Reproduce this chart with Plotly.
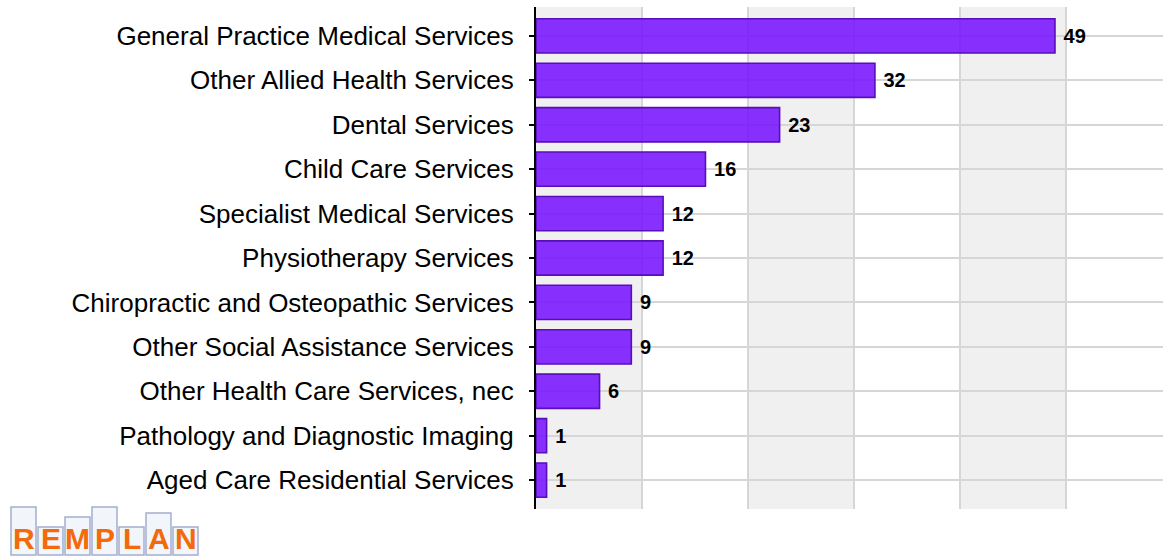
import plotly.graph_objects as go

categories = [
    "General Practice Medical Services",
    "Other Allied Health Services",
    "Dental Services",
    "Child Care Services",
    "Specialist Medical Services",
    "Physiotherapy Services",
    "Chiropractic and Osteopathic Services",
    "Other Social Assistance Services",
    "Other Health Care Services, nec",
    "Pathology and Diagnostic Imaging",
    "Aged Care Residential Services",
]
values = [49, 32, 23, 16, 12, 12, 9, 9, 6, 1, 1]
band_starts = [0, 20, 40]
logo_letters = list("REMPLAN")
logo_box_tops = [507, 527, 517, 507, 527, 513, 527]

W, H = 1163, 556
L, T, B, R = 536, 7, 47, 0
PW, PH = W - L - R, H - T - B

fig = go.Figure()
fig.add_trace(go.Bar(
    x=values, y=categories, orientation="h",
    marker=dict(color="rgba(120,20,255,0.88)", line=dict(color="rgb(88,14,185)", width=1.6)),
    width=0.77,
    text=[f" {v}" for v in values], textposition="outside",
    textfont=dict(family="Liberation Sans, Arial", size=20, color="black", weight="bold"),
    cliponaxis=False, hoverinfo="skip",
))

for s in band_starts:
    fig.add_shape(type="rect", xref="x", yref="paper", x0=s, x1=s + 10, y0=0, y1=1,
                  fillcolor="#f0f0f0", line=dict(width=0), layer="below")

# logo
def px_x(X):
    return (X - L) / PW

def px_y(Y):
    return (H - B - Y) / PH

lx = 10
for letter, top in zip(logo_letters, logo_box_tops):
    fig.add_shape(type="rect", xref="paper", yref="paper",
                  x0=px_x(lx + 1), x1=px_x(lx + 26), y0=px_y(555), y1=px_y(top),
                  fillcolor="#f2f6fb", line=dict(color="#a4aed0", width=1.5), layer="above")
    fig.add_annotation(
        text=f"<b>{letter}</b>", xref="paper", yref="paper",
        x=px_x(lx + 13.5), y=px_y(556), xanchor="center", yanchor="bottom",
        showarrow=False, borderpad=0,
        font=dict(family="Liberation Sans, Arial", size=30, color="#f26a0a", weight="bold"),
    )
    lx += 27

fig.update_layout(
    width=W, height=H,
    margin=dict(l=L, r=R, t=T, b=B, pad=0, autoexpand=False),
    paper_bgcolor="white", plot_bgcolor="white",
    showlegend=False,
    xaxis=dict(range=[0, 59.2], dtick=10, tick0=0, showgrid=True, gridcolor="#d6d6d6", gridwidth=2,
               showticklabels=False, zeroline=False, showline=False, ticks="", automargin=False),
    yaxis=dict(autorange=False, range=[10.65, -0.65], showgrid=True, gridcolor="#d6d6d6", gridwidth=2,
               showline=True, linecolor="black", linewidth=2, ticks="outside", ticklen=5,
               tickcolor="black", tickwidth=1.5, ticklabelstandoff=10, automargin=False,
               tickfont=dict(family="Liberation Sans, Arial", size=26, color="black")),
)

fig.write_html("out.html", config={"displayModeBar": False},
               post_script="document.body.style.margin='0';document.body.style.overflow='hidden';")
